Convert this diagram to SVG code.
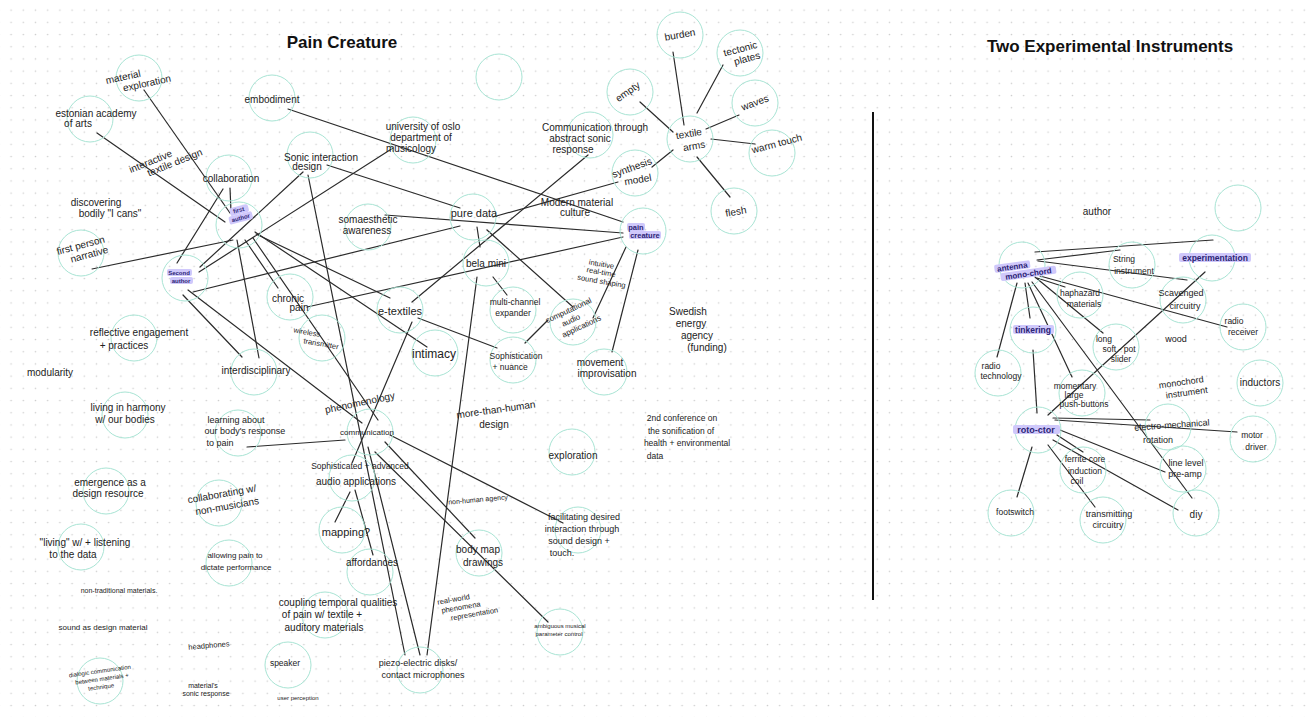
<svg xmlns="http://www.w3.org/2000/svg" width="1311" height="717" viewBox="0 0 1311 717">
<defs>
<pattern id="dots" patternUnits="userSpaceOnUse" x="5" y="4" width="12.2" height="12.2">
<circle cx="6.1" cy="6.1" r="0.8" fill="#cfcfcf"/>
</pattern>
<style>
.c{fill:none;stroke:#a8e4d4;stroke-width:1}
.l{stroke:#2b2b2b;stroke-width:1.2;fill:none;stroke-linecap:round}
.t{font-family:"Liberation Sans",Arial,sans-serif;font-size:10px;fill:#222;text-anchor:middle}
.s6{font-size:6px}
.s7{font-size:7px}
.s75{font-size:7.5px}
.s8{font-size:8px}
.s85{font-size:8.5px}
.s9{font-size:9px}
.hl{fill:#cfc8fb}
.ht{fill:#2c2475;font-weight:bold}
.title{font-family:"Liberation Sans",Arial,sans-serif;font-size:17px;font-weight:bold;fill:#111;text-anchor:middle}
</style>
</defs>
<rect width="1311" height="717" fill="#ffffff"/>
<rect width="1311" height="717" fill="url(#dots)"/>

<text class="title" x="342" y="48">Pain Creature</text>
<text class="title" x="1110" y="52">Two Experimental Instruments</text>
<line x1="873" y1="112" x2="873" y2="600" stroke="#111" stroke-width="2"/>

<g id="connectors">
<path class="l" d="M144,90 L230,213"/>
<path class="l" d="M97,133 L225,222"/>
<path class="l" d="M230,188 L231,212"/>
<path class="l" d="M223,189 L177,263"/>
<path class="l" d="M303,172 L200,267"/>
<path class="l" d="M393,148 L199,272"/>
<path class="l" d="M193,292 L460,226"/>
<path class="l" d="M92,269 L233,240"/>
<path class="l" d="M237,240 L259,358"/>
<path class="l" d="M245,240 L278,288"/>
<path class="l" d="M253,238 L378,420"/>
<path class="l" d="M256,234 L390,298"/>
<path class="l" d="M255,232 L427,347"/>
<path class="l" d="M183,295 L242,357"/>
<path class="l" d="M188,290 L362,423"/>
<path class="l" d="M288,109 L623,222"/>
<path class="l" d="M327,165 L460,208"/>
<path class="l" d="M308,175 L405,655"/>
<path class="l" d="M477,277 L427,655"/>
<path class="l" d="M368,447 L420,655"/>
<path class="l" d="M588,155 L412,302"/>
<path class="l" d="M493,217 L618,182"/>
<path class="l" d="M652,167 L673,150"/>
<path class="l" d="M385,215 L623,233"/>
<path class="l" d="M307,307 L623,237"/>
<path class="l" d="M477,227 L480,247"/>
<path class="l" d="M487,230 L573,307"/>
<path class="l" d="M493,277 L507,295"/>
<path class="l" d="M548,320 L525,343"/>
<path class="l" d="M593,318 L626,247"/>
<path class="l" d="M638,250 L612,352"/>
<path class="l" d="M418,318 L497,348"/>
<path class="l" d="M412,322 L352,463"/>
<path class="l" d="M247,447 L345,440"/>
<path class="l" d="M390,435 L563,523"/>
<path class="l" d="M385,442 L475,538"/>
<path class="l" d="M375,452 L548,622"/>
<path class="l" d="M350,492 L335,522"/>
<path class="l" d="M355,490 L373,555"/>
<path class="l" d="M673,52 L684,125"/>
<path class="l" d="M723,65 L697,113"/>
<path class="l" d="M640,102 L673,132"/>
<path class="l" d="M739,115 L706,129"/>
<path class="l" d="M711,139 L755,144"/>
<path class="l" d="M697,157 L730,197"/>
<path class="l" d="M1035,252 L1213,240"/>
<path class="l" d="M1037,260 L1120,250"/>
<path class="l" d="M1038,261 L1187,280"/>
<path class="l" d="M1040,276 L1227,327"/>
<path class="l" d="M1037,278 L1065,287"/>
<path class="l" d="M1035,277 L1103,333"/>
<path class="l" d="M1017,283 L997,357"/>
<path class="l" d="M1025,283 L1030,318"/>
<path class="l" d="M1028,283 L1072,377"/>
<path class="l" d="M1032,282 L1192,498"/>
<path class="l" d="M1033,350 L1037,413"/>
<path class="l" d="M1205,272 L1048,415"/>
<path class="l" d="M1053,418 L1150,420"/>
<path class="l" d="M1055,420 L1237,432"/>
<path class="l" d="M1057,435 L1083,452"/>
<path class="l" d="M1060,430 L1165,472"/>
<path class="l" d="M1053,440 L1178,510"/>
<path class="l" d="M1048,445 L1095,507"/>
<path class="l" d="M1032,447 L1017,497"/>
</g>

<g id="material-exploration"><circle class="c" cx="139" cy="78" r="23"/><g transform="rotate(-12 135 80)"><text class="t" x="124" y="78">material</text><text class="t" x="146" y="89">exploration</text></g></g>
<g id="estonian-academy"><circle class="c" cx="90" cy="119" r="23"/><text class="t" x="96" y="117">estonian academy</text><text class="t" x="78" y="127">of arts</text></g>
<g id="interactive-textile-design"><g transform="rotate(-22 160 158)"><text class="t" x="150" y="161">interactive</text><text class="t" x="172" y="171">textile design</text></g></g>
<g id="embodiment"><circle class="c" cx="272" cy="98" r="23"/><text class="t" x="272" y="103">embodiment</text></g>
<g id="collaboration"><circle class="c" cx="229" cy="178" r="23"/><text class="t" x="231" y="182">collaboration</text></g>
<g id="first-author"><circle class="c" cx="239" cy="225" r="23"/><g transform="rotate(-15 240 215)"><rect class="hl" x="231" y="206" width="19" height="8" rx="2"/><rect class="hl" x="228" y="214" width="24" height="8" rx="2"/><text class="t s6 ht" x="240" y="212">first</text><text class="t s6 ht" x="240" y="220">author</text></g></g>
<g id="discovering"><text class="t" x="96" y="206">discovering</text><text class="t" x="110" y="217">bodily "I cans"</text></g>
<g id="sonic-interaction-design"><circle class="c" cx="310" cy="155" r="23"/><text class="t" x="321" y="161">Sonic interaction</text><text class="t" x="307" y="170">design</text></g>
<g id="university-oslo"><circle class="c" cx="413" cy="140" r="23"/><text class="t" x="423" y="130">university of oslo</text><text class="t" x="421" y="141">department of</text><text class="t" x="411" y="152">musicology</text></g>
<g id="empty-top"><circle class="c" cx="499" cy="77" r="23"/></g>
<g id="communication-abstract"><circle class="c" cx="590" cy="135" r="23"/><text class="t" x="595" y="131">Communication through</text><text class="t" x="580" y="142">abstract sonic</text><text class="t" x="573" y="153">response</text></g>
<g id="burden"><circle class="c" cx="680" cy="35" r="23"/><text class="t" x="680" y="38" transform="rotate(-10 680 35)">burden</text></g>
<g id="tectonic-plates"><circle class="c" cx="740" cy="53" r="23"/><g transform="rotate(-15 742 55)"><text class="t" x="742" y="52">tectonic</text><text class="t" x="746" y="63">plates</text></g></g>
<g id="empty"><circle class="c" cx="630" cy="92" r="23"/><text class="t" x="628" y="95" transform="rotate(-35 628 92)">empty</text></g>
<g id="waves"><circle class="c" cx="755" cy="103" r="23"/><text class="t" x="755" y="106" transform="rotate(-20 755 103)">waves</text></g>
<g id="textile-arms"><circle class="c" cx="690" cy="139" r="23"/><g transform="rotate(-10 690 140)"><text class="t" x="690" y="137">textile</text><text class="t" x="693" y="150">arms</text></g></g>
<g id="warm-touch"><circle class="c" cx="772" cy="153" r="23"/><text class="t" x="777" y="147" transform="rotate(-15 777 144)">warm touch</text></g>
<g id="flesh"><circle class="c" cx="734" cy="211" r="23"/><text class="t" x="736" y="215" transform="rotate(-10 736 212)">flesh</text></g>
<g id="synthesis-model"><circle class="c" cx="635" cy="173" r="23"/><text class="t" x="632" y="171" transform="rotate(-20 632 168)">synthesis</text><text class="t" x="638" y="183" transform="rotate(-10 638 180)">model</text></g>
<g id="pure-data"><circle class="c" cx="473" cy="217" r="23"/><text class="t" x="474" y="217" style="font-size:11px">pure data</text></g>
<g id="somaesthetic-awareness"><circle class="c" cx="368" cy="227" r="23"/><text class="t" x="368" y="223">somaesthetic</text><text class="t" x="367" y="234">awareness</text></g>
<g id="modern-material-culture"><text class="t" x="577" y="206">Modern material</text><text class="t" x="575" y="216">culture</text></g>
<g id="pain-creature"><circle class="c" cx="643" cy="231" r="23"/><rect class="hl" x="627" y="223" width="18" height="8" rx="2"/><rect class="hl" x="629" y="231" width="32" height="8" rx="2"/><text class="t s75 ht" x="636" y="230">pain</text><text class="t s75 ht" x="645" y="238">creature</text></g>
<g id="bela-mini"><circle class="c" cx="486" cy="263" r="23"/><text class="t" x="486" y="267">bela mini</text></g>
<g id="intuitive-sound-shaping"><g transform="rotate(10 603 273)"><text class="t s75" x="600" y="267">intuitive</text><text class="t s75" x="601" y="275">real-time</text><text class="t s75" x="603" y="284">sound shaping</text></g></g>
<g id="first-person-narrative"><circle class="c" cx="81" cy="253" r="23"/><g transform="rotate(-15 84 250)"><text class="t" x="82" y="248">first person</text><text class="t" x="88" y="259">narrative</text></g></g>
<g id="second-author"><circle class="c" cx="185" cy="278" r="23"/><rect class="hl" x="167" y="269" width="25" height="7" rx="2"/><rect class="hl" x="170" y="277" width="23" height="7" rx="2"/><text class="t s6 ht" x="179" y="275">Second</text><text class="t s6 ht" x="181" y="283">author</text></g>
<g id="chronic-pain"><circle class="c" cx="290" cy="297" r="23"/><text class="t" x="288" y="302">chronic</text><text class="t" x="299" y="311">pain</text></g>
<g id="wireless-transmitter"><circle class="c" cx="322" cy="338" r="23"/><g transform="rotate(10 314 338)"><text class="t s75" x="306" y="336">wireless</text><text class="t s75" x="322" y="345">transmitter</text></g></g>
<g id="e-textiles"><circle class="c" cx="400" cy="310" r="23"/><text class="t" x="400" y="315" style="font-size:11px">e-textiles</text></g>
<g id="multi-channel-expander"><circle class="c" cx="513" cy="310" r="23"/><text class="t s85" x="515" y="305">multi-channel</text><text class="t s85" x="513" y="316">expander</text></g>
<g id="computational-audio"><circle class="c" cx="573" cy="322" r="23"/><g transform="rotate(-25 573 320)"><text class="t s8" x="573" y="312">computational</text><text class="t s8" x="571" y="322">audio</text><text class="t s8" x="578" y="332">applications</text></g></g>
<g id="intimacy"><circle class="c" cx="435" cy="353" r="23"/><text class="t" x="434" y="358" style="font-size:12px">intimacy</text></g>
<g id="sophistication-nuance"><circle class="c" cx="513" cy="360" r="23"/><text class="t s85" x="516" y="359">Sophistication</text><text class="t s85" x="510" y="370">+ nuance</text></g>
<g id="movement-improvisation"><circle class="c" cx="604" cy="372" r="23"/><text class="t" x="600" y="366">movement</text><text class="t" x="607" y="377">improvisation</text></g>
<g id="reflective-engagement"><circle class="c" cx="134" cy="338" r="23"/><text class="t" x="139" y="336">reflective engagement</text><text class="t" x="124" y="349">+ practices</text></g>
<g id="modularity"><text class="t" x="50" y="376">modularity</text></g>
<g id="interdisciplinary"><circle class="c" cx="254" cy="372" r="23"/><text class="t" x="256" y="374">interdisciplinary</text></g>
<g id="living-harmony"><circle class="c" cx="125" cy="415" r="23"/><text class="t" x="128" y="411">living in harmony</text><text class="t" x="125" y="423">w/ our bodies</text></g>
<g id="learning-body"><circle class="c" cx="238" cy="433" r="23"/><text class="t s9" x="236" y="423">learning about</text><text class="t s9" x="245" y="434">our body's response</text><text class="t s9" x="220" y="446">to pain</text></g>
<g id="phenomenology"><text class="t" x="360" y="406" transform="rotate(-12 360 403)">phenomenology</text></g>
<g id="communication"><circle class="c" cx="370" cy="432" r="23"/><text class="t s8" x="367" y="435">communication</text></g>
<g id="more-than-human"><text class="t" x="496" y="413" transform="rotate(-8 496 410)">more-than-human</text><text class="t" x="494" y="428">design</text></g>
<g id="swedish-energy"><text class="t" x="688" y="315">Swedish</text><text class="t" x="691" y="327">energy</text><text class="t" x="697" y="339">agency</text><text class="t" x="707" y="351">(funding)</text></g>
<g id="conference"><text class="t s85" x="682" y="421">2nd conference on</text><text class="t s85" x="681" y="434">the sonification of</text><text class="t s85" x="687" y="446">health + environmental</text><text class="t s85" x="655" y="459">data</text></g>
<g id="exploration"><circle class="c" cx="572" cy="452" r="23"/><text class="t" x="573" y="459">exploration</text></g>
<g id="sophisticated-advanced"><circle class="c" cx="352" cy="478" r="23"/><text class="t s85" x="360" y="469">Sophisticated + advanced</text><text class="t" x="356" y="485">audio applications</text></g>
<g id="mapping"><circle class="c" cx="342" cy="530" r="23"/><text class="t" x="346" y="536" style="font-size:11px">mapping?</text></g>
<g id="affordances"><circle class="c" cx="370" cy="572" r="23"/><text class="t" x="372" y="566">affordances</text></g>
<g id="non-human-agency"><text class="t s7" x="478" y="502" transform="rotate(-5 478 499)">non-human agency</text></g>
<g id="facilitating"><circle class="c" cx="578" cy="530" r="23"/><text class="t s9" x="584" y="520">facilitating desired</text><text class="t s9" x="582" y="532">interaction through</text><text class="t s9" x="579" y="544">sound design +</text><text class="t s9" x="562" y="556">touch.</text></g>
<g id="body-map-drawings"><circle class="c" cx="479" cy="553" r="23"/><text class="t" x="478" y="553">body map</text><text class="t" x="483" y="566">drawings</text></g>
<g id="emergence"><circle class="c" cx="106" cy="491" r="23"/><text class="t" x="110" y="486">emergence as a</text><text class="t" x="108" y="497">design resource</text></g>
<g id="collaborating-non-musicians"><circle class="c" cx="219" cy="503" r="23"/><g transform="rotate(-10 224 500)"><text class="t" x="223" y="497">collaborating w/</text><text class="t" x="226" y="510">non-musicians</text></g></g>
<g id="living-listening"><circle class="c" cx="81" cy="547" r="23"/><text class="t" x="85" y="546">"living" w/ + listening</text><text class="t" x="73" y="558">to the data</text></g>
<g id="allowing-pain"><circle class="c" cx="229" cy="563" r="23"/><text class="t s8" x="235" y="558">allowing pain to</text><text class="t s8" x="236" y="570">dictate performance</text></g>
<g id="non-traditional"><text class="t s7" x="119" y="593">non-traditional materials.</text></g>
<g id="sound-design-material"><text class="t s8" x="103" y="630">sound as design material</text></g>
<g id="headphones"><text class="t s75" x="209" y="648" transform="rotate(-5 209 646)">headphones</text></g>
<g id="materials-sonic-response"><text class="t s7" x="203" y="688">material's</text><text class="t s7" x="206" y="696">sonic response</text></g>
<g id="dialogic"><circle class="c" cx="100" cy="681" r="23"/><g transform="rotate(-8 101 679)"><text class="t s6" x="101" y="673">dialogic communication</text><text class="t s6" x="102" y="681">between materials +</text><text class="t s6" x="100" y="689">technique</text></g></g>
<g id="speaker"><circle class="c" cx="288" cy="665" r="23"/><text class="t s85" x="285" y="666">speaker</text></g>
<g id="user-perception"><text class="t s6" x="298" y="700">user perception</text></g>
<g id="coupling"><circle class="c" cx="325" cy="615" r="23"/><text class="t" x="338" y="606">coupling temporal qualities</text><text class="t" x="322" y="618">of pain w/ textile +</text><text class="t" x="324" y="631">auditory materials</text></g>
<g id="real-world"><g transform="rotate(-10 465 607)"><text class="t s75" x="455" y="600">real-world</text><text class="t s75" x="461" y="609">phenomena</text><text class="t s75" x="473" y="618">representation</text></g></g>
<g id="ambiguous"><circle class="c" cx="560" cy="632" r="23"/><text class="t s6" x="560" y="628">ambiguous musical</text><text class="t s6" x="559" y="636">parameter control</text></g>
<g id="piezo"><circle class="c" cx="420" cy="670" r="23"/><text class="t s9" x="418" y="666">piezo-electric disks/</text><text class="t s9" x="423" y="678">contact microphones</text></g>

<g id="empty-right"><circle class="c" cx="1238" cy="208" r="23"/></g>
<g id="author"><text class="t" x="1097" y="215">author</text></g>
<g id="antenna-mono-chord"><circle class="c" cx="1022" cy="265" r="23"/><g transform="rotate(-8 1024 271)"><rect class="hl" x="995" y="261" width="36" height="8" rx="2"/><rect class="hl" x="1000" y="270" width="56" height="8" rx="2"/><text class="t s8 ht" x="1013" y="268">antenna</text><text class="t s8 ht" x="1028" y="277">mono-chord</text></g></g>
<g id="string-instrument"><circle class="c" cx="1132" cy="265" r="23"/><text class="t s85" x="1124" y="262">String</text><text class="t s85" x="1134" y="274">instrument</text></g>
<g id="experimentation"><circle class="c" cx="1212" cy="258" r="23"/><rect class="hl" x="1179" y="253" width="72" height="9" rx="2"/><text class="t s85 ht" x="1215" y="261">experimentation</text></g>
<g id="haphazard-materials"><circle class="c" cx="1080" cy="295" r="23"/><text class="t s85" x="1080" y="296">haphazard</text><text class="t s85" x="1084" y="307">materials</text></g>
<g id="scavenged-circuitry"><circle class="c" cx="1183" cy="300" r="23"/><text class="t s9" x="1181" y="296">Scavenged</text><text class="t s9" x="1185" y="309">circuitry</text></g>
<g id="radio-receiver"><circle class="c" cx="1243" cy="327" r="23"/><text class="t s85" x="1234" y="324">radio</text><text class="t s85" x="1243" y="335">receiver</text></g>
<g id="tinkering"><circle class="c" cx="1033" cy="330" r="23"/><rect class="hl" x="1013" y="325" width="41" height="9" rx="2"/><text class="t s85 ht" x="1033" y="333">tinkering</text></g>
<g id="wood"><text class="t s9" x="1176" y="342">wood</text></g>
<g id="long-soft-pot"><circle class="c" cx="1116" cy="347" r="23"/><text class="t s85" x="1104" y="342">long</text><text class="t s85" x="1119" y="352">soft - pot</text><text class="t s85" x="1121" y="362">slider</text></g>
<g id="radio-technology"><circle class="c" cx="998" cy="373" r="23"/><text class="t s85" x="991" y="369">radio</text><text class="t s85" x="1001" y="379">technology</text></g>
<g id="momentary-push-buttons"><circle class="c" cx="1082" cy="393" r="23"/><text class="t s85" x="1075" y="389">momentary</text><text class="t s85" x="1074" y="398">large</text><text class="t s85" x="1084" y="407">push-buttons</text></g>
<g id="monochord-instrument"><g transform="rotate(-8 1184 388)"><text class="t s9" x="1182" y="385">monochord</text><text class="t s9" x="1186" y="396">instrument</text></g></g>
<g id="inductors"><circle class="c" cx="1260" cy="383" r="23"/><text class="t" x="1260" y="386">inductors</text></g>
<g id="roto-ctor"><circle class="c" cx="1038" cy="430" r="23"/><rect class="hl" x="1013" y="425" width="47" height="9" rx="2"/><text class="t s9 ht" x="1036" y="433">roto-ctor</text></g>
<g id="electro-mechanical"><circle class="c" cx="1168" cy="427" r="23"/><text class="t s9" x="1172" y="428" transform="rotate(-4 1172 426)">electro-mechanical</text><text class="t s9" x="1158" y="443">rotation</text></g>
<g id="motor-driver"><circle class="c" cx="1253" cy="439" r="23"/><text class="t s85" x="1252" y="438">motor</text><text class="t s85" x="1256" y="450">driver</text></g>
<g id="ferrite-core"><circle class="c" cx="1083" cy="470" r="23"/><text class="t s85" x="1085" y="462">ferrite core</text><text class="t s85" x="1085" y="474">induction</text><text class="t s85" x="1077" y="484">coil</text></g>
<g id="line-level-preamp"><circle class="c" cx="1183" cy="469" r="23"/><text class="t s9" x="1186" y="466">line level</text><text class="t s9" x="1185" y="477">pre-amp</text></g>
<g id="footswitch"><circle class="c" cx="1011" cy="513" r="23"/><text class="t s85" x="1015" y="515">footswitch</text></g>
<g id="transmitting-circuitry"><circle class="c" cx="1103" cy="520" r="23"/><text class="t s9" x="1109" y="517">transmitting</text><text class="t s9" x="1108" y="528">circuitry</text></g>
<g id="diy"><circle class="c" cx="1196" cy="513" r="23"/><text class="t" x="1196" y="518">diy</text></g>
</svg>
